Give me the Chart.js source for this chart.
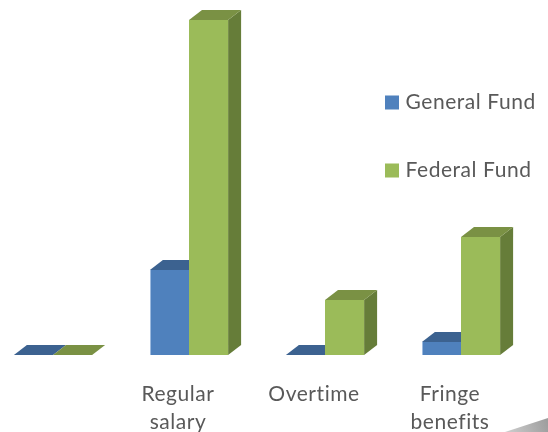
<!DOCTYPE html>
<html>
<head>
<meta charset="utf-8">
<script src="https://cdn.jsdelivr.net/npm/chart.js@4/dist/chart.umd.min.js"></script>
<style>
html, body { margin: 0; padding: 0; background: #fff; overflow: hidden; }
canvas { display: block; }
</style>
</head>
<body>
<canvas id="grafico" width="548" height="432"></canvas>
<script>
var categorias = ["", ["Regular", "salary"], "Overtime", ["Fringe", "benefits"]];
var generalFund = [0, 8.5, 0, 1.3];
var federalFund = [0, 33.5, 5.5, 11.8];

var colores = {
    general: { frente: "#4f81bd", arriba: "#3c6290", lado: "#355a86", borde: "#9dbbdf" },
    federal: { frente: "#9bbb59", arriba: "#7a9144", lado: "#667d39", borde: "#c3d69b" }
};
var fondo = [13, -10];

// caras laterales y superiores de las barras (efecto 3D)
var barras3d = {
    id: "barras3d",
    beforeDraw: function(chart) {
        chart.ctx.letterSpacing = "0.55px";
    },
    beforeDatasetsDraw: function(chart) {
        var ctx = chart.ctx;
        [["general", 0], ["federal", 1]].forEach(function(par) {
            var c = colores[par[0]];
            chart.getDatasetMeta(par[1]).data.forEach(function(barra) {
                var p = barra.getProps(["x", "y", "base", "width"], true);
                var izq = p.x - p.width / 2, der = p.x + p.width / 2;
                ctx.fillStyle = c.lado;
                ctx.beginPath();
                ctx.moveTo(der, p.y);
                ctx.lineTo(der + fondo[0], p.y + fondo[1]);
                ctx.lineTo(der + fondo[0], p.base + fondo[1]);
                ctx.lineTo(der, p.base);
                ctx.closePath();
                ctx.fill();
                ctx.fillStyle = c.arriba;
                ctx.beginPath();
                ctx.moveTo(izq, p.y);
                ctx.lineTo(izq + fondo[0], p.y + fondo[1]);
                ctx.lineTo(der + fondo[0], p.y + fondo[1]);
                ctx.lineTo(der, p.y);
                ctx.closePath();
                ctx.fill();
            });
        });
    }
};

// la leyenda va flotando a la derecha
var leyendaFlotante = {
    id: "leyendaFlotante",
    afterLayout: function(chart) {
        var l = chart.legend;
        var pad = l.options.labels.padding;
        l.left = 389 - pad;
        l.top = 92 - pad;
        l.right = l.left + l.width;
        l.bottom = l.top + l.height;
        l.adjustHitBoxes();
    }
};

// cuña gris de la esquina
var esquina = {
    id: "esquina",
    afterDraw: function(chart) {
        var ctx = chart.ctx;
        var g = ctx.createLinearGradient(505, 432, 548, 418);
        g.addColorStop(0, "#cfcfcf");
        g.addColorStop(1, "#9c9c9c");
        ctx.fillStyle = g;
        ctx.beginPath();
        ctx.moveTo(505, 432);
        ctx.lineTo(548, 418);
        ctx.lineTo(548, 432);
        ctx.closePath();
        ctx.fill();
    }
};

new Chart(document.getElementById("grafico"), {
    type: "bar",
    data: {
        labels: categorias,
        datasets: [{
            label: "General Fund",
            data: generalFund,
            backgroundColor: colores.general.frente,
            borderColor: colores.general.borde,
            borderWidth: { bottom: 1, left: 1 },
            clip: false
        }, {
            label: "Federal Fund",
            data: federalFund,
            backgroundColor: colores.federal.frente,
            borderColor: colores.federal.borde,
            borderWidth: { bottom: 1 },
            clip: false
        }]
    },
    options: {
        responsive: false,
        animation: false,
        barPercentage: 1,
        categoryPercentage: 0.575,
        layout: { padding: { left: 53, right: 87, top: 5, bottom: 0 } },
        scales: {
            x: {
                offset: false,
                border: { display: false },
                grid: { display: false },
                afterFit: function(scale) { scale.height = 77; },
                ticks: {
                    autoSkip: false,
                    maxRotation: 0,
                    labelOffset: -11,
                    padding: 17,
                    color: "#595959",
                    font: { family: "Lato", size: 21, lineHeight: 1.35 }
                }
            },
            y: { display: false, min: 0, max: 35 }
        },
        plugins: {
            tooltip: { enabled: false },
            legend: {
                position: "chartArea",
                align: "start",
                labels: {
                    boxWidth: 6,
                    boxHeight: 6,
                    padding: 47,
                    color: "#595959",
                    font: { family: "Lato", size: 21 },
                    // borde grueso: cuadrado de 14px con el texto mas cerca
                    generateLabels: function(chart) {
                        return chart.data.datasets.map(function(ds, i) {
                            return {
                                text: ds.label,
                                fillStyle: ds.backgroundColor,
                                strokeStyle: ds.backgroundColor,
                                lineWidth: 8,
                                fontColor: "#595959",
                                datasetIndex: i
                            };
                        });
                    }
                }
            }
        }
    },
    plugins: [barras3d, leyendaFlotante, esquina]
});
</script>
</body>
</html>
